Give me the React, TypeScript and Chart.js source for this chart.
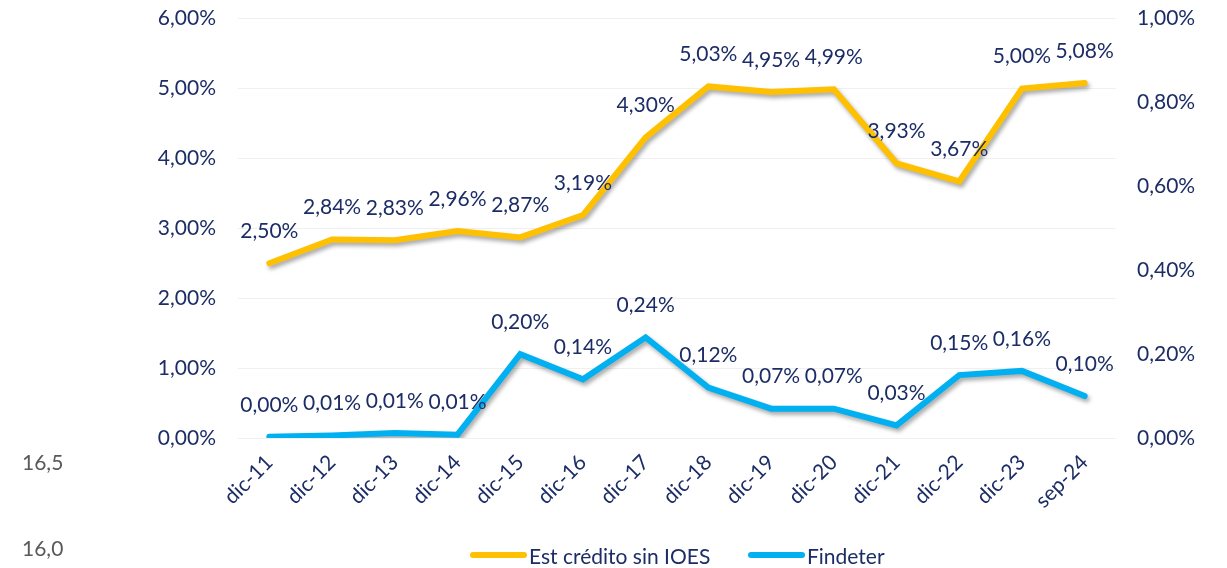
import React, { useEffect, useRef } from "react";
import { Chart, registerables } from "chart.js";

Chart.register(...registerables);

const categories = ["dic-11", "dic-12", "dic-13", "dic-14", "dic-15", "dic-16", "dic-17", "dic-18", "dic-19", "dic-20", "dic-21", "dic-22", "dic-23", "sep-24"];
const estCredito = [2.5, 2.84, 2.83, 2.96, 2.87, 3.19, 4.3, 5.03, 4.95, 4.99, 3.93, 3.67, 5.0, 5.08];
const findeter = [0.003, 0.006, 0.012, 0.008, 0.2, 0.14, 0.24, 0.12, 0.07, 0.07, 0.03, 0.15, 0.16, 0.1];
const leftTicks = [0, 1, 2, 3, 4, 5, 6];
const rightTicks = [0, 0.2, 0.4, 0.6, 0.8, 1.0];
const seriesNames = ["Est crédito sin IOES", "Findeter"];
const seriesColors = ["#FFC000", "#00B0F0"];

const NAVY = "#1C2D66";
const FONT = "Lato";
const FS = 21;
const SHIFT = 16;

const fmt = (v: number) => v.toFixed(2).replace(".", ",") + "%";

const shadowPlugin = {
  id: "lineShadow",
  beforeDatasetDraw(chart: any) {
    const ctx = chart.ctx;
    ctx.save();
    ctx.shadowColor = "rgba(0,0,0,0.35)";
    ctx.shadowBlur = 4;
    ctx.shadowOffsetX = 2;
    ctx.shadowOffsetY = 3;
  },
  afterDatasetDraw(chart: any) {
    chart.ctx.restore();
  },
};

const labelPlugin = {
  id: "dataLabels",
  afterDatasetsDraw(chart: any) {
    const ctx = chart.ctx;
    ctx.save();
    ctx.font = `${FS}px ${FONT}`;
    ctx.fillStyle = NAVY;
    ctx.textAlign = "center";
    ctx.textBaseline = "middle";
    chart.data.datasets.forEach((ds: any, i: number) => {
      const meta = chart.getDatasetMeta(i);
      meta.data.forEach((pt: any, j: number) => {
        ctx.fillText(fmt(ds.data[j]), pt.x, pt.y - 32);
      });
    });
    ctx.restore();
  },
};

export default function App() {
  const ref = useRef<HTMLCanvasElement>(null);
  useEffect(() => {
    if (!ref.current) return;
    const chart = new Chart(ref.current, {
      type: "line",
      data: {
        labels: categories,
        datasets: [
          {
            label: seriesNames[0],
            data: estCredito,
            borderColor: seriesColors[0],
            backgroundColor: seriesColors[0],
            borderWidth: 6,
            pointRadius: 0,
            yAxisID: "y",
            borderCapStyle: "round",
          },
          {
            label: seriesNames[1],
            data: findeter,
            borderColor: seriesColors[1],
            backgroundColor: seriesColors[1],
            borderWidth: 6,
            pointRadius: 0,
            yAxisID: "y1",
            borderCapStyle: "round",
          },
        ],
      },
      options: {
        animation: false,
        responsive: false,
        maintainAspectRatio: false,
        layout: { padding: { top: 0, left: 0, right: 0, bottom: 0 } },
        plugins: {
          legend: { display: false },
          tooltip: { enabled: false },
        },
        scales: {
          x: {
            offset: true,
            grid: { display: false },
            border: { display: false },
            ticks: {
              color: NAVY,
              font: { family: FONT, size: FS },
              minRotation: 45,
              maxRotation: 45,
              padding: 4,
            },
            afterFit: (s: any) => {
              s.height = 130;
            },
          },
          y: {
            position: "left",
            min: 0,
            max: 6,
            afterBuildTicks: (s: any) => {
              s.ticks = leftTicks.map((v) => ({ value: v }));
            },
            grid: { color: "#F0F0F0", lineWidth: 1, drawTicks: false },
            border: { display: false },
            ticks: {
              color: NAVY,
              font: { family: FONT, size: FS },
              padding: 22,
              callback: (v: any) => fmt(Number(v)),
            },
            afterFit: (s: any) => {
              s.width = 238;
            },
          },
          y1: {
            position: "right",
            min: 0,
            max: 1,
            afterBuildTicks: (s: any) => {
              s.ticks = rightTicks.map((v) => ({ value: v }));
            },
            grid: { display: false, drawTicks: false },
            border: { display: false },
            ticks: {
              color: NAVY,
              font: { family: FONT, size: FS },
              padding: 21,
              callback: (v: any) => fmt(Number(v)),
            },
            afterFit: (s: any) => {
              s.width = 111;
            },
          },
        },
      },
      plugins: [shadowPlugin, labelPlugin],
    });
    return () => chart.destroy();
  }, []);

  const stray: React.CSSProperties = {
    position: "absolute",
    left: 22,
    fontFamily: FONT,
    fontSize: FS,
    color: "#595959",
    lineHeight: "20px",
  };

  const legendItem = (i: number, left: number) => (
    <div key={i} style={{ position: "absolute", left, top: 543, height: 24, display: "flex", alignItems: "center" }}>
      <div style={{ width: 57, height: 6, borderRadius: 3, background: seriesColors[i], marginRight: 2 }} />
      <span style={{ fontFamily: FONT, fontSize: FS, color: NAVY, whiteSpace: "nowrap" }}>{seriesNames[i]}</span>
    </div>
  );

  return (
    <div style={{ position: "fixed", left: 0, top: 0, width: 1227, height: 568, background: "#fff", overflow: "hidden" }}>
      <canvas ref={ref} width={1227} height={568 + SHIFT} style={{ position: "absolute", left: 0, top: -SHIFT }} />
      <div style={{ ...stray, top: 452 }}>16,5</div>
      <div style={{ ...stray, top: 538 }}>16,0</div>
      {legendItem(0, 470)}
      {legendItem(1, 748)}
    </div>
  );
}
